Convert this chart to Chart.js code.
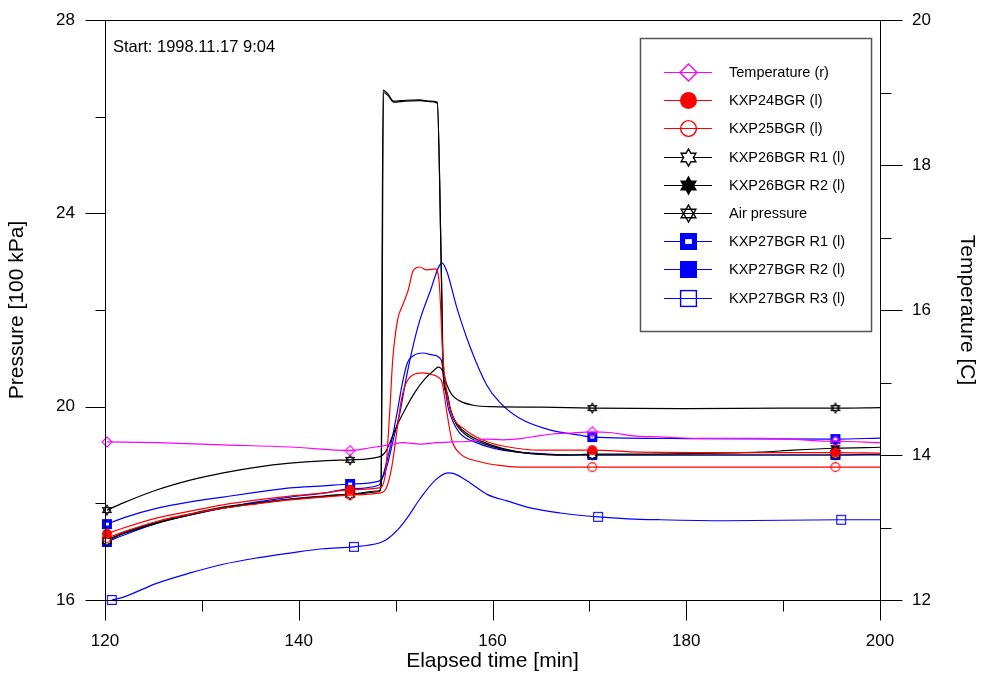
<!DOCTYPE html>
<html>
<head>
<meta charset="utf-8">
<title>Pressure and temperature</title>
<script src="https://cdn.jsdelivr.net/npm/chart.js@4.4.1/dist/chart.umd.min.js"></script>
<style>
  html, body { margin: 0; padding: 0; background: #fff; }
  #wrap { width: 982px; height: 675px; }
</style>
</head>
<body>
<div id="wrap"><canvas id="chart" width="982" height="675"></canvas></div>
<script>
const FONT = 'Arial, "Liberation Sans", sans-serif';
const START_LABEL = 'Start: 1998.11.17 9:04';

// axis ticks
const xMajor = [120, 140, 160, 180, 200];
const xMinor = [130, 150, 170, 190];
const pMajor = [16, 20, 24, 28];
const pMinor = [18, 22, 26];
const tMajor = [12, 14, 16, 18, 20];
const tMinor = [13, 15, 17, 19];

// marker times (min)
const marks = [120.2, 145.3, 170.3, 195.4];
const marksR3 = [120.7, 145.7, 170.9, 196.0];

// Temperature (right axis, C)
const tempT = [120.2, 125.4, 132.2, 139.1, 145.3, 147.4, 149.4, 150.8, 152.5, 154.3, 155.9, 157.7, 159.4, 161.1, 163.1, 164.6, 166.2, 167.7, 170.3, 172.1, 174.9, 177.3, 180.7, 184.2, 187.6, 191.0, 194.5, 195.4, 200];
const tempV = [14.18, 14.17, 14.14, 14.11, 14.06, 14.10, 14.14, 14.17, 14.15, 14.17, 14.18, 14.19, 14.22, 14.21, 14.23, 14.26, 14.29, 14.30, 14.32, 14.31, 14.26, 14.25, 14.23, 14.23, 14.23, 14.22, 14.19, 14.19, 14.17];

// KXP24BGR
const k24T = [120.2, 121.9, 125.4, 128.8, 132.2, 135.7, 139.1, 142.5, 145.3, 148.3, 148.9, 149.4, 149.7, 150.2, 150.8, 151.3, 151.8, 152.5, 153.2, 154.1, 154.5, 154.9, 155.3, 155.9, 157.0, 158.0, 159.5, 161.5, 164.9, 170.3, 175.2, 185.0, 195.4, 200];
const k24V = [17.37, 17.49, 17.70, 17.84, 17.97, 18.07, 18.15, 18.21, 18.28, 18.32, 18.55, 19.93, 20.97, 21.79, 22.14, 22.41, 22.81, 22.89, 22.83, 22.85, 22.56, 20.97, 20.28, 19.79, 19.55, 19.41, 19.27, 19.17, 19.10, 19.10, 19.06, 19.05, 19.05, 19.04];

// KXP25BGR
const k25T = [120.2, 121.9, 125.4, 128.8, 132.2, 135.7, 139.1, 142.5, 145.3, 148.3, 149.0, 149.6, 150.2, 150.6, 151.0, 151.8, 152.8, 153.8, 154.4, 154.8, 155.3, 155.8, 156.6, 158.7, 160.5, 162.8, 170.3, 180.0, 195.4, 200];
const k25V = [17.28, 17.41, 17.63, 17.78, 17.90, 17.99, 18.07, 18.13, 18.17, 18.21, 18.3, 18.75, 19.6, 20.15, 20.45, 20.66, 20.70, 20.66, 20.61, 20.5, 19.87, 19.31, 19.04, 18.86, 18.79, 18.75, 18.75, 18.75, 18.75, 18.75];

// KXP26BGR R1
const r1T = [120.2, 121.9, 125.4, 128.8, 132.2, 135.7, 139.1, 142.5, 145.3, 148.3, 148.5, 148.75, 149.2, 149.8, 151.0, 152.5, 153.5, 154.3, 154.7, 154.9, 155.3, 155.7, 156.3, 157.5, 159.6, 163.0, 168.0, 170.3, 180.0, 195.4, 200];
const r1V = [17.22, 17.37, 17.59, 17.76, 17.90, 18.00, 18.08, 18.14, 18.18, 18.24, 18.35, 26.5, 26.44, 26.3, 26.32, 26.33, 26.31, 26.28, 23.0, 20.7, 20.25, 19.9, 19.62, 19.38, 19.2, 19.05, 19.0, 19.0, 19.0, 19.0, 19.0];

// KXP26BGR R2
const r2T = [120.2, 121.9, 125.4, 128.8, 132.2, 135.7, 139.1, 142.5, 145.3, 148.3, 148.5, 148.7, 149.2, 149.8, 151.0, 152.5, 153.5, 154.3, 154.75, 154.95, 155.3, 155.6, 156.1, 157.3, 159.4, 162.8, 168.0, 170.3, 175.0, 180.0, 187.6, 191.0, 195.4, 200];
const r2V = [17.24, 17.39, 17.61, 17.78, 17.92, 18.01, 18.09, 18.15, 18.19, 18.26, 18.4, 26.55, 26.47, 26.32, 26.34, 26.35, 26.32, 26.3, 22.5, 20.6, 20.3, 19.99, 19.72, 19.45, 19.24, 19.06, 19.0, 19.02, 19.02, 19.03, 19.06, 19.1, 19.14, 19.16];

// Air pressure
const airT = [120.2, 121.9, 125.4, 128.8, 132.2, 135.7, 139.1, 142.5, 145.3, 148.3, 149.0, 150.0, 151.0, 152.0, 153.0, 154.0, 154.4, 154.9, 155.3, 155.8, 156.6, 158.0, 160.0, 165.0, 170.3, 180.0, 190.0, 195.4, 200];
const airV = [17.86, 18.01, 18.28, 18.48, 18.63, 18.75, 18.83, 18.88, 18.90, 18.96, 19.08, 19.55, 19.95, 20.3, 20.57, 20.76, 20.82, 20.72, 20.45, 20.25, 20.12, 20.03, 20.0, 19.99, 19.97, 19.96, 19.97, 19.97, 19.98];

// KXP27BGR R1
const b1T = [120.2, 121.9, 125.4, 128.8, 132.2, 135.7, 139.1, 142.5, 145.3, 148.3, 149.0, 149.8, 150.5, 151.0, 151.7, 152.5, 153.5, 154.8, 155.3, 156.3, 157.7, 159.4, 160.7, 162.8, 165.9, 169.0, 170.3, 180.0, 195.4, 200];
const b1V = [17.57, 17.70, 17.90, 18.03, 18.13, 18.23, 18.32, 18.36, 18.40, 18.46, 18.7, 19.35, 19.93, 20.49, 21.17, 21.79, 22.35, 22.97, 22.79, 22.06, 21.23, 20.45, 20.1, 19.76, 19.52, 19.41, 19.37, 19.34, 19.33, 19.35];

// KXP27BGR R2
const b2T = [120.2, 121.9, 125.4, 128.8, 132.2, 135.7, 139.1, 142.5, 145.3, 148.3, 149.0, 149.7, 150.2, 150.7, 151.2, 151.8, 152.8, 153.8, 154.7, 155.1, 155.4, 155.8, 156.6, 158.4, 161.0, 165.0, 168.0, 170.3, 180.0, 195.4, 200];
const b2V = [17.20, 17.34, 17.59, 17.76, 17.90, 18.03, 18.13, 18.21, 18.30, 18.38, 18.8, 19.4, 19.93, 20.49, 20.9, 21.05, 21.11, 21.07, 20.97, 20.4, 20.0, 19.75, 19.46, 19.25, 19.10, 19.03, 19.0, 19.0, 19.0, 19.0, 19.02];

// KXP27BGR R3
const b3T = [120.7, 121.9, 125.4, 128.8, 132.2, 135.7, 139.1, 142.5, 145.7, 148.3, 149.0, 150.2, 151.2, 152.5, 154.1, 155.4, 156.1, 157.7, 159.5, 161.5, 164.0, 167.0, 170.9, 174.0, 177.3, 184.0, 196.0, 200];
const b3V = [16.0, 16.06, 16.35, 16.56, 16.74, 16.87, 16.97, 17.06, 17.10, 17.18, 17.24, 17.45, 17.70, 18.09, 18.48, 18.63, 18.61, 18.42, 18.18, 18.05, 17.9, 17.80, 17.72, 17.68, 17.66, 17.64, 17.66, 17.66];

// little canvases used as point symbols
function makeMarker(kind, size, color) {
  const c = document.createElement('canvas');
  c.width = c.height = size + 4;
  const g = c.getContext('2d');
  const m = c.width / 2, r = size / 2;
  g.strokeStyle = color;
  g.fillStyle = color;
  g.lineWidth = size > 12 ? 1.4 : 1.1;
  const hexagram = () => {
    g.beginPath();
    for (let j = 0; j < 12; j++) {
      const a = -Math.PI / 2 + j * Math.PI / 6;
      const rr = j % 2 ? r * 0.58 : r;
      g.lineTo(m + rr * Math.cos(a), m + rr * Math.sin(a));
    }
    g.closePath();
  };
  switch (kind) {
    case 'diamond':
      g.beginPath();
      g.moveTo(m, m - r); g.lineTo(m + r, m); g.lineTo(m, m + r); g.lineTo(m - r, m);
      g.closePath(); g.stroke();
      break;
    case 'dot':
      g.beginPath(); g.arc(m, m, r, 0, 2 * Math.PI); g.fill();
      break;
    case 'ring':
      g.beginPath(); g.arc(m, m, r - 0.6, 0, 2 * Math.PI); g.stroke();
      break;
    case 'hexOpen':
      hexagram(); g.fillStyle = '#fff'; g.fill(); g.stroke();
      break;
    case 'hexFill':
      hexagram(); g.fill(); g.stroke();
      break;
    case 'david':
      [0, Math.PI].forEach(off => {
        g.beginPath();
        for (let j = 0; j < 3; j++) {
          const a = -Math.PI / 2 + off + j * 2 * Math.PI / 3;
          g.lineTo(m + r * Math.cos(a), m + r * Math.sin(a));
        }
        g.closePath(); g.stroke();
      });
      break;
    case 'boxDot':
      g.fillRect(m - r, m - r, size, size);
      g.fillStyle = '#fff';
      g.fillRect(m - size * 0.2, m - size * 0.14, size * 0.4, size * 0.28);
      break;
    case 'box':
      g.fillRect(m - r, m - r, size, size);
      break;
    case 'boxOpen':
      g.strokeRect(m - r + 0.6, m - r + 0.6, size - 1.2, size - 1.2);
      break;
  }
  return c;
}

const legendIcons = [];

function series(label, t, v, times, color, kind, axis) {
  legendIcons.push(makeMarker(kind, 17, color));
  return {
    label: label,
    yAxisID: axis,
    data: t.map((x, i) => ({ x: x, y: v[i] })),
    borderColor: color,
    backgroundColor: color,
    borderWidth: 1.2,
    pointStyle: makeMarker(kind, 10, color),
    pointRadius: ctx => (ctx.raw && times.includes(ctx.raw.x)) ? 5 : 0,
    pointHoverRadius: 0,
    cubicInterpolationMode: 'monotone',
    fill: false,
    clip: 10
  };
}

const datasets = [
  series('Temperature (r)', tempT, tempV, marks, '#ff00ff', 'diamond', 'temp'),
  series('KXP24BGR (l)', k24T, k24V, marks, '#ff0000', 'dot', 'pressure'),
  series('KXP25BGR (l)', k25T, k25V, marks, '#ff0000', 'ring', 'pressure'),
  series('KXP26BGR R1 (l)', r1T, r1V, marks, '#000000', 'hexOpen', 'pressure'),
  series('KXP26BGR R2 (l)', r2T, r2V, marks, '#000000', 'hexFill', 'pressure'),
  series('Air pressure', airT, airV, marks, '#000000', 'david', 'pressure'),
  series('KXP27BGR R1 (l)', b1T, b1V, marks, '#0000ff', 'boxDot', 'pressure'),
  series('KXP27BGR R2 (l)', b2T, b2V, marks, '#0000ff', 'box', 'pressure'),
  series('KXP27BGR R3 (l)', b3T, b3V, marksR3, '#0000ff', 'boxOpen', 'pressure')
];

// plot frame, major/minor ticks and the start stamp
const framePlugin = {
  id: 'frame',
  afterDatasetsDraw(chart) {
    const { ctx, chartArea: a, scales } = chart;
    const L = Math.round(a.left) + 0.5, R = Math.round(a.right) + 0.5;
    const T = Math.round(a.top) + 0.5, B = Math.round(a.bottom) + 0.5;
    ctx.save();
    ctx.strokeStyle = '#000';
    ctx.lineWidth = 1;
    ctx.beginPath();
    ctx.moveTo(L, T); ctx.lineTo(R, T); ctx.lineTo(R, B); ctx.lineTo(L, B); ctx.closePath();
    const hTick = (py, x0, x1) => { const y = Math.round(py) + 0.5; ctx.moveTo(x0, y); ctx.lineTo(x1, y); };
    const vTick = (px, len) => { const x = Math.round(px) + 0.5; ctx.moveTo(x, B); ctx.lineTo(x, B + len); };
    pMajor.forEach(v => hTick(scales.pressure.getPixelForValue(v), L - 20, L));
    pMinor.forEach(v => hTick(scales.pressure.getPixelForValue(v), L - 10, L));
    tMajor.forEach(v => hTick(scales.temp.getPixelForValue(v), R, R + 22));
    tMinor.forEach(v => hTick(scales.temp.getPixelForValue(v), R, R + 11));
    xMajor.forEach(v => vTick(scales.x.getPixelForValue(v), 20));
    xMinor.forEach(v => vTick(scales.x.getPixelForValue(v), 11));
    ctx.stroke();
    ctx.fillStyle = '#000';
    ctx.font = '16.5px ' + FONT;
    ctx.textBaseline = 'middle';
    ctx.fillText(START_LABEL, a.left + 8, a.top + 27);
    ctx.restore();
  }
};

// boxed legend with line + symbol samples
const legendPlugin = {
  id: 'boxLegend',
  afterDatasetsDraw(chart) {
    const ctx = chart.ctx;
    const box = { x: 640, y: 38, w: 231, h: 293 };
    ctx.save();
    ctx.fillStyle = '#fff';
    ctx.fillRect(box.x, box.y, box.w, box.h);
    ctx.strokeStyle = '#555';
    ctx.lineWidth = 1.5;
    ctx.strokeRect(box.x + 0.5, box.y + 0.5, box.w, box.h);
    ctx.font = '14.5px ' + FONT;
    ctx.textBaseline = 'middle';
    chart.data.datasets.forEach((ds, i) => {
      const y = Math.round(box.y + 34 + i * 28.2) + 0.5;
      ctx.strokeStyle = ds.borderColor;
      ctx.lineWidth = 1;
      ctx.beginPath();
      ctx.moveTo(box.x + 24, y);
      ctx.lineTo(box.x + 72, y);
      ctx.stroke();
      const icon = legendIcons[i];
      ctx.drawImage(icon, Math.round(box.x + 48 - icon.width / 2), Math.round(y - icon.height / 2));
      ctx.fillStyle = '#000';
      ctx.fillText(ds.label, box.x + 89, y);
    });
    ctx.restore();
  }
};

// fixed axis sizes so the plot area sits at 105..880 x 20..600
const fixWidth = w => s => { s.width = w; s.paddingTop = 0; s.paddingBottom = 0; };
const fixHeight = h => s => { s.height = h; s.paddingLeft = 0; s.paddingRight = 0; };

const tickFont = { family: FONT, size: 17 };
const titleFont = { family: FONT, size: 21 };

new Chart(document.getElementById('chart'), {
  type: 'line',
  data: { datasets: datasets },
  options: {
    responsive: false,
    animation: false,
    devicePixelRatio: 1,
    layout: { padding: { top: 20, left: 0, right: 0, bottom: 0 } },
    plugins: { legend: { display: false }, tooltip: { enabled: false } },
    scales: {
      x: {
        type: 'linear', min: 120, max: 200,
        afterFit: fixHeight(75),
        grid: { display: false, drawTicks: false },
        border: { display: false },
        ticks: { stepSize: 20, padding: 31, color: '#000', font: tickFont, maxRotation: 0 },
        title: { display: true, text: 'Elapsed time [min]', color: '#000', font: titleFont, padding: { top: 0, bottom: 1 } }
      },
      pressure: {
        type: 'linear', position: 'left', min: 16, max: 28,
        afterFit: fixWidth(105),
        grid: { display: false, drawTicks: false },
        border: { display: false },
        ticks: { stepSize: 4, padding: 30, color: '#000', font: tickFont },
        title: { display: true, text: 'Pressure [100 kPa]', color: '#000', font: titleFont, padding: { top: 5, bottom: 0 } }
      },
      temp: {
        type: 'linear', position: 'right', min: 12, max: 20,
        afterFit: fixWidth(102),
        grid: { display: false, drawTicks: false },
        border: { display: false },
        ticks: { stepSize: 2, padding: 32, color: '#000', font: tickFont },
        title: { display: true, text: 'Temperature [C]', color: '#000', font: titleFont, padding: { top: 3, bottom: 0 } }
      }
    }
  },
  plugins: [framePlugin, legendPlugin]
});
</script>
</body>
</html>
